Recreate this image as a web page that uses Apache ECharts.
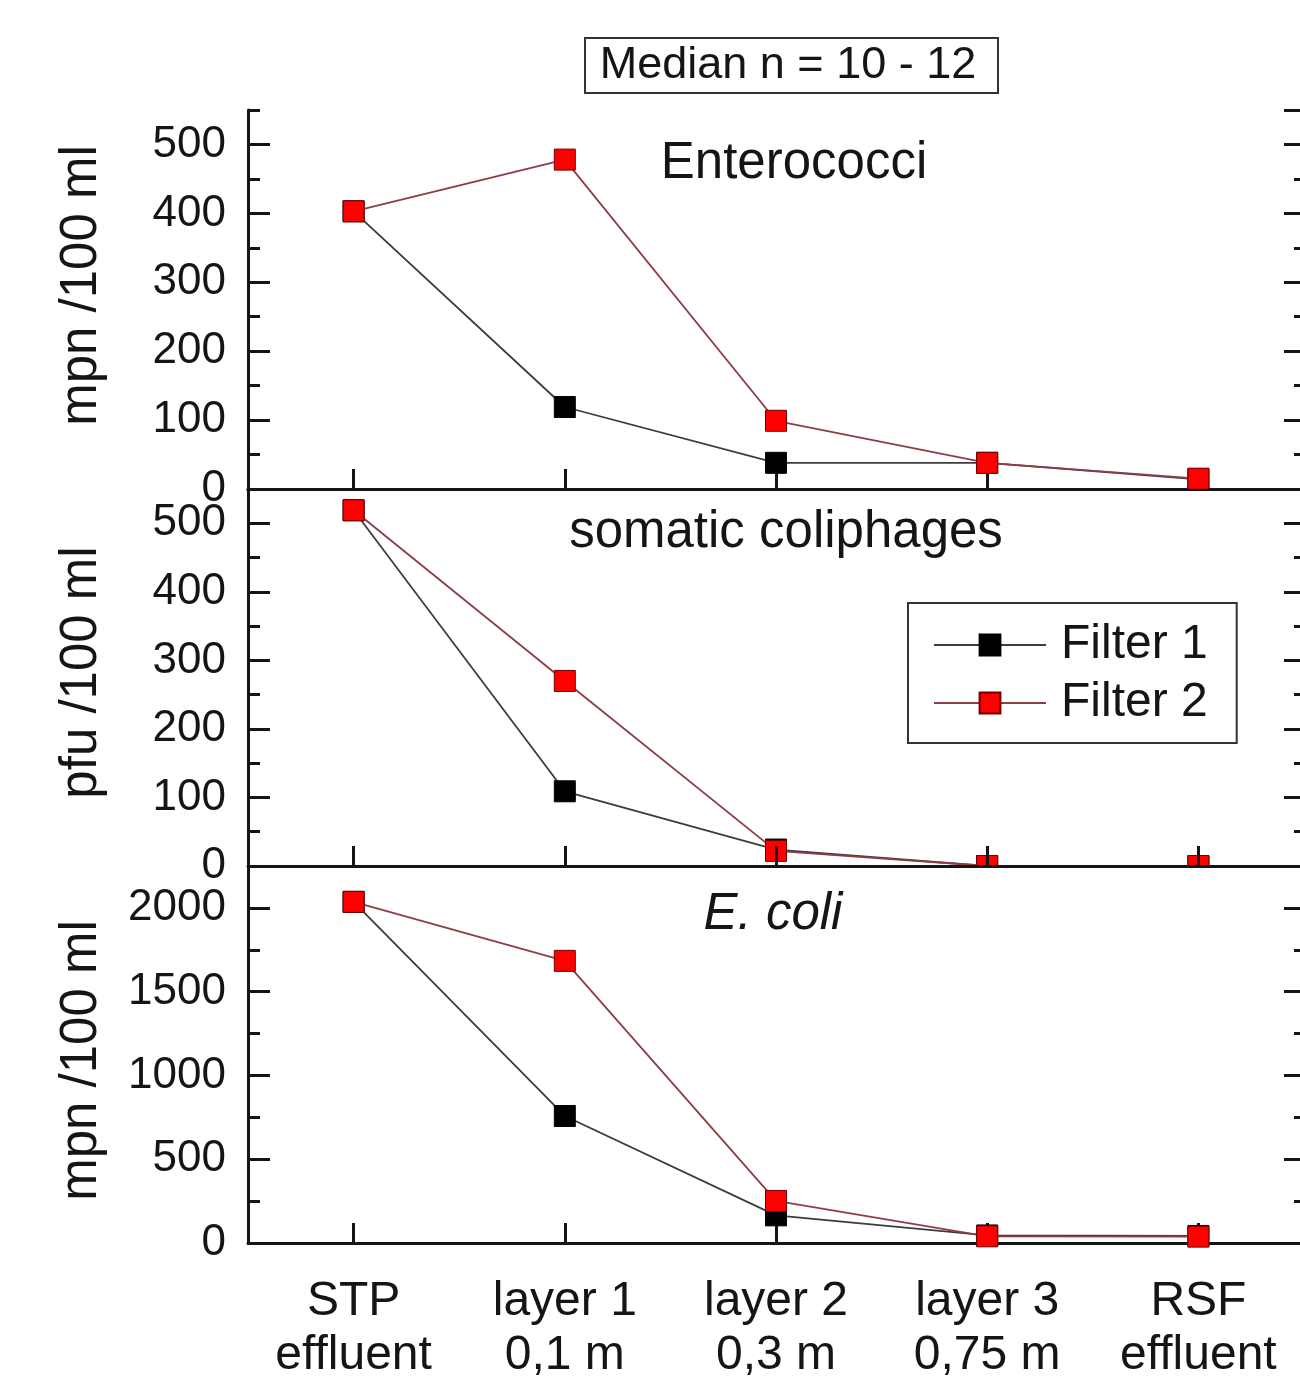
<!DOCTYPE html>
<html>
<head>
<meta charset="utf-8">
<script src="https://cdn.jsdelivr.net/npm/echarts@6/dist/echarts.min.js"></script>
<style>
html,body{margin:0;padding:0;background:#fff;}
#chart{width:1300px;height:1377px;}
</style>
</head>
<body>
<div id="chart"></div>
<script>
// ---- data ----
const categories = ['STP\neffluent', 'layer 1\n0,1 m', 'layer 2\n0,3 m', 'layer 3\n0,75 m', 'RSF\neffluent'];
const seriesNames = ['Filter 1', 'Filter 2'];
const enterococciF1 = [403, 119, 38, 38, 14];
const enterococciF2 = [403, 478, 99, 38, 15];
const coliphagesF1 = [519, 109, 24, 0, 0];
const coliphagesF2 = [519, 270, 22, 0, 0];
const ecoliF1 = [2036, 758, 165, 45, 42];
const ecoliF2 = [2036, 1684, 251, 40, 38];
const panelTitles = ['Enterococci', 'somatic coliphages', 'E. coli'];
const yNames = ['mpn /100 ml', 'pfu /100 ml', 'mpn /100 ml'];
const yMax = [550, 550, 2250];
const yMajor = [100, 100, 500];
const yMinor = [50, 50, 250];
const boxLabel = 'Median n = 10 - 12';

// ---- chart ----
const FONT = "'Liberation Sans', Arial, sans-serif";
const INK = '#151515';
const namePad = [[0, 0, 0, 28], [0, 0, 0, 10], [0, 12, 0, 0]];
const grids = [
  {left: 248, top: 110, width: 1056, height: 379, outerBoundsMode: 'none', containLabel: false},
  {left: 248, top: 489, width: 1056, height: 377, outerBoundsMode: 'none', containLabel: false},
  {left: 248, top: 866, width: 1056, height: 377, outerBoundsMode: 'none', containLabel: false,
   show: true, backgroundColor: '#fff', borderWidth: 0, z: 5}
];

const xAxis = [];
for (let g = 0; g < 3; g++) {
  xAxis.push({
    type: 'category', gridIndex: g, data: categories, boundaryGap: true, z: g >= 1 ? 10 : 0,
    axisLine: {show: true, lineStyle: {color: INK, width: 3}},
    axisTick: {show: true, inside: true, length: 20, alignWithLabel: true, interval: 0, lineStyle: {color: INK, width: 3}},
    axisLabel: {show: g === 2, interval: 0, fontSize: 48, lineHeight: 54, margin: 32, color: INK, fontFamily: FONT},
    splitLine: {show: false}
  });
}
xAxis.push({
  type: 'category', gridIndex: 0, data: categories, position: 'top', boundaryGap: true,
  axisLine: {show: true, lineStyle: {color: INK, width: 3}},
  axisTick: {show: false}, axisLabel: {show: false}, splitLine: {show: false}
});

const yAxis = [];
for (let g = 0; g < 3; g++) {
  const z = g === 2 ? 10 : 0;
  yAxis.push({
    type: 'value', gridIndex: g, min: 0, max: yMax[g], interval: yMajor[g], position: 'left', z,
    name: yNames[g], nameLocation: 'middle', nameRotate: 90, nameGap: 141,
    nameTextStyle: {fontSize: 51, color: INK, fontFamily: FONT, padding: namePad[g]},
    axisLine: {show: true, onZero: false, lineStyle: {color: INK, width: 3}},
    axisTick: {show: true, inside: true, length: 22, lineStyle: {color: INK, width: 3}},
    axisLabel: {show: true, fontSize: 44, margin: 22, color: INK, fontFamily: FONT, showMaxLabel: false,
                formatter: v => String(v)},
    splitLine: {show: false}
  });
  yAxis.push({
    type: 'value', gridIndex: g, min: 0, max: yMax[g], interval: yMinor[g], position: 'left', z,
    axisLine: {show: false},
    axisTick: {show: true, inside: true, length: 12, lineStyle: {color: INK, width: 3}},
    axisLabel: {show: false}, splitLine: {show: false}
  });
  yAxis.push({
    type: 'value', gridIndex: g, min: 0, max: yMax[g], interval: yMajor[g], position: 'right', z,
    axisLine: {show: true, onZero: false, lineStyle: {color: INK, width: 3}},
    axisTick: {show: true, inside: true, length: 20, lineStyle: {color: INK, width: 3}},
    axisLabel: {show: false}, splitLine: {show: false}
  });
  yAxis.push({
    type: 'value', gridIndex: g, min: 0, max: yMax[g], interval: yMinor[g], position: 'right', z,
    axisLine: {show: false},
    axisTick: {show: true, inside: true, length: 10, lineStyle: {color: INK, width: 3}},
    axisLabel: {show: false}, splitLine: {show: false}
  });
}

const panelData = [[enterococciF1, enterococciF2], [coliphagesF1, coliphagesF2], [ecoliF1, ecoliF2]];
const styles = [
  {line: '#3c3c3c', fill: '#000000', border: '#000000'},
  {line: '#8e3d45', fill: '#ff0000', border: '#700000'}
];
const series = [];
for (let g = 0; g < 3; g++) {
  for (let s = 0; s < 2; s++) {
    series.push({
      name: seriesNames[s], type: 'line', xAxisIndex: g, yAxisIndex: g * 4,
      data: panelData[g][s], symbol: 'rect', symbolSize: 21, z: g === 2 ? 11 + s : 2 + s,
      lineStyle: {color: styles[s].line, width: 1.8},
      itemStyle: {color: styles[s].fill, borderColor: styles[s].border, borderWidth: 1},
      emphasis: {disabled: true}, animation: false
    });
  }
}

const chart = echarts.init(document.getElementById('chart'), null, {renderer: 'canvas'});
chart.setOption({
  backgroundColor: '#fff',
  animation: false,
  grid: grids,
  xAxis: xAxis,
  yAxis: yAxis,
  series: series,
  legend: {
    data: seriesNames, orient: 'vertical', left: 908, top: 603,
    padding: [16, 29, 14, 25], borderColor: '#333', borderWidth: 2, backgroundColor: '#fff',
    itemWidth: 112, itemHeight: 26, itemGap: 6, selectedMode: false, z: 20,
    textStyle: {fontSize: 48, lineHeight: 52, color: INK, fontFamily: FONT, padding: [0, 0, 0, 10]}
  },
  graphic: [
    {type: 'rect', z: 20, shape: {x: 585, y: 38, width: 413, height: 55}, style: {fill: '#fff', stroke: '#333', lineWidth: 2}},
    {type: 'text', z: 21, x: 788, y: 66, style: {text: boxLabel, font: '45px ' + FONT, fill: INK, textAlign: 'center', textVerticalAlign: 'middle'}},
    {type: 'text', z: 21, x: 794, y: 164, style: {text: panelTitles[0], font: '51px ' + FONT, fill: INK, textAlign: 'center', textVerticalAlign: 'middle'}},
    {type: 'text', z: 21, x: 786, y: 533, style: {text: panelTitles[1], font: '51px ' + FONT, fill: INK, textAlign: 'center', textVerticalAlign: 'middle'}},
    {type: 'text', z: 21, x: 773, y: 915, style: {text: panelTitles[2], font: 'italic 51px ' + FONT, fill: INK, textAlign: 'center', textVerticalAlign: 'middle'}}
  ]
});
</script>
</body>
</html>
